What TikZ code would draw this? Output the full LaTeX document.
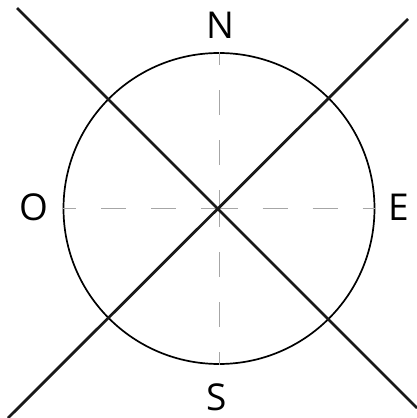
\documentclass[tikz,border=0pt]{standalone}
\usepackage{fontspec}
\setmainfont{Open Sans}
\usetikzlibrary{calc}
\tikzstyle{ring}=[circle, draw, line width=1.7pt, minimum size=311pt, inner sep=0pt]
\tikzstyle{axis}=[draw=gray!70, line width=0.9pt, dash pattern=on 25pt off 25pt, dash phase=6.5pt]
\tikzstyle{cross}=[line width=2.8pt, draw=black!90]
\tikzstyle{pt}=[font=\fontsize{37}{37}\selectfont, inner sep=0pt]

\begin{document}
\begin{tikzpicture}[x=1pt, y=-1pt]
            \useasboundingbox (0,0) rectangle (417,418);
            \node[ring] (c) at (219,208.5) {};
            \draw[axis] (c.center) -- (c.north);
            \draw[axis] (c.center) -- (c.south);
            \draw[axis] (c.center) -- (c.west);
            \draw[axis] (c.center) -- (c.east);
            \coordinate (nw) at (17,8);
            \coordinate (se) at (417,408);
            \coordinate (sw) at (8,418);
            \coordinate (ne) at (408,19);
            \draw[cross] (nw) -- (se);
            \draw[cross] (sw) -- (ne);
            \node[pt] (n) at (220,25) {N};
            \node[pt] (s) at (217,397) {S};
            \node[pt] (o) at (33.5,207.5) {O};
            \node[pt] (e) at (398.5,207.5) {E};
        \end{tikzpicture}
\end{document}
